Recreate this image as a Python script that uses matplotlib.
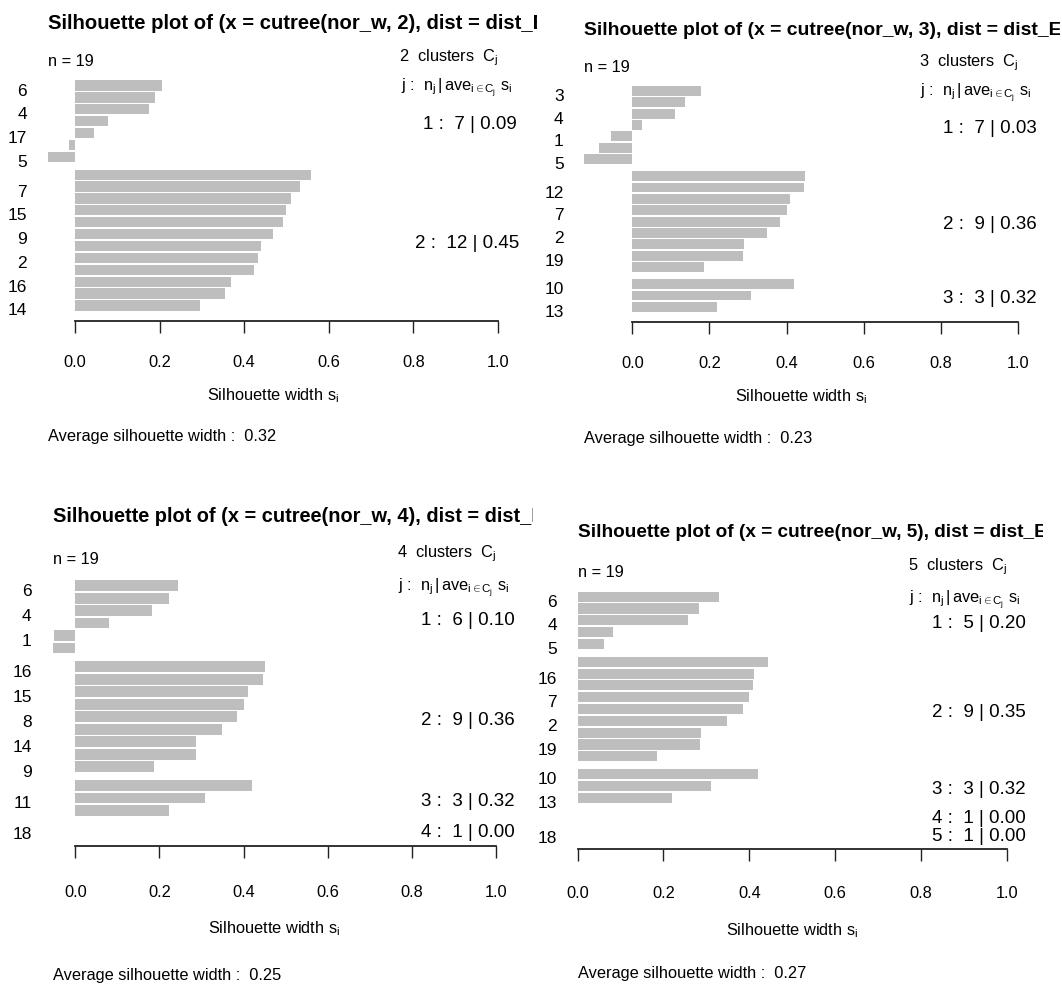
import matplotlib
matplotlib.use("Agg")
import matplotlib.pyplot as plt
import matplotlib.transforms as mtransforms
from matplotlib import font_manager

W, H, DPI = 1062, 987, 100

_names = {f.name for f in font_manager.fontManager.ttflist}
FONT = "Liberation Sans Narrow" if "Liberation Sans Narrow" in _names else "Liberation Sans"
NARROW = FONT.endswith("Narrow")
plt.rcParams["font.family"] = [FONT, "DejaVu Sans"]
plt.rcParams["mathtext.fontset"] = "custom"
plt.rcParams["mathtext.rm"] = FONT
plt.rcParams["mathtext.it"] = FONT
plt.rcParams["mathtext.sf"] = FONT
plt.rcParams["mathtext.bf"] = FONT + ":bold"

# ---- silhouette widths per cluster (sorted within each cluster) ----
sil_k2 = [[0.206, 0.190, 0.174, 0.077, 0.046, -0.014, -0.064],
          [0.559, 0.531, 0.511, 0.499, 0.492, 0.469, 0.439, 0.433, 0.424, 0.368, 0.355, 0.296]]
lab_k2 = [["6", "", "4", "", "17", "", "5"],
          ["", "7", "", "15", "", "9", "", "2", "", "16", "", "14"]]

sil_k3 = [[0.178, 0.136, 0.111, 0.024, -0.054, -0.087, -0.124],
          [0.449, 0.444, 0.409, 0.401, 0.382, 0.348, 0.290, 0.287, 0.187],
          [0.420, 0.308, 0.220]]
lab_k3 = [["3", "", "4", "", "1", "", "5"],
          ["", "12", "", "7", "", "2", "", "19", ""],
          ["10", "", "13"]]

sil_k4 = [[0.245, 0.222, 0.182, 0.081, -0.050, -0.054],
          [0.450, 0.445, 0.410, 0.400, 0.385, 0.348, 0.288, 0.288, 0.186],
          [0.420, 0.308, 0.222],
          [0.0]]
lab_k4 = [["6", "", "4", "", "1", ""],
          ["16", "", "15", "", "8", "", "14", "", "9"],
          ["", "11", ""],
          ["18"]]

sil_k5 = [[0.330, 0.283, 0.257, 0.083, 0.062],
          [0.444, 0.411, 0.408, 0.399, 0.385, 0.347, 0.288, 0.285, 0.186],
          [0.420, 0.310, 0.220],
          [0.0],
          [0.0]]
lab_k5 = [["6", "", "4", "", "5"],
          ["", "16", "", "7", "", "2", "", "19", ""],
          ["10", "", "13"],
          [""],
          ["18"]]

x_ticks = [0.0, 0.2, 0.4, 0.6, 0.8, 1.0]

# ---- page geometry of each panel (pixels, origin top-left) ----
panels = [
    dict(k=2, sil=sil_k2, lab=lab_k2, x0=75.0, x1=498.0, bottom=321.7, unit=11.89,
         clip=(0, 537), fs_title=14.6, title_dy=-42, n_dy=-5, cl_dy=-10, j_dy=20.5,
         tick_dy=45.5, xlab_dy=79, avg_dy=119),
    dict(k=3, sil=sil_k3, lab=lab_k3, x0=632.3, x1=1018.0, bottom=322.7, unit=11.37,
         clip=(540, 1060), fs_title=13.95, title_dy=-42, n_dy=-5.4, cl_dy=-10.4, j_dy=19.6,
         tick_dy=45.5, xlab_dy=79, avg_dy=120),
    dict(k=4, sil=sil_k4, lab=lab_k4, x0=75.3, x1=496.0, bottom=846.7, unit=12.49,
         clip=(0, 533), fs_title=14.4, title_dy=-48.5, n_dy=-6.2, cl_dy=-12.9, j_dy=21.5,
         tick_dy=50, xlab_dy=86.5, avg_dy=133),
    dict(k=5, sil=sil_k5, lab=lab_k5, x0=577.6, x1=1007.0, bottom=850.0, unit=11.82,
         clip=(540, 1043), fs_title=13.65, title_dy=-45.2, n_dy=-5.2, cl_dy=-11.9, j_dy=21.4,
         tick_dy=48, xlab_dy=85, avg_dy=128),
]

BAR = "#bebebe"
if NARROW:
    FS_TXT, FS_ROW, FS_CL, TITLE_SCALE = 14, 14, 16, 1.06
else:
    FS_TXT, FS_ROW, FS_CL, TITLE_SCALE = 11.8, 12.5, 13.5, 1.0

fig = plt.figure(figsize=(W / DPI, H / DPI), dpi=DPI)
fig.patch.set_facecolor("white")
page = fig.add_axes([0, 0, 1, 1])
page.set_xlim(0, W)
page.set_ylim(H, 0)
page.axis("off")

deferred = []  # texts placed with a fractional horizontal anchor (R's adj)
row_shift = mtransforms.ScaledTranslation(0, -3 / DPI, fig.dpi_scale_trans)

for p in panels:
    sil, lab, k = p["sil"], p["lab"], p["k"]
    n = sum(len(c) for c in sil)
    T = n + 0.5 * (k - 1)
    xmin = min(0.0, min(min(c) for c in sil))
    pxu = p["x1"] - p["x0"]
    left = p["x0"] + xmin * pxu
    right = p["x1"]
    bottom = p["bottom"]
    top = bottom - 1.08 * T * p["unit"]

    ax = fig.add_axes([left / W, 1 - bottom / H, (right - left) / W, (bottom - top) / H])
    ax.set_xlim(xmin, 1.0)
    ax.set_ylim(1.04 * T, -0.04 * T)
    ax.patch.set_alpha(0)

    pos, vals, labels, means = [], [], [], []
    row = 0
    for j, (cvals, clabs) in enumerate(zip(sil, lab)):
        cpos = [row + i + 0.5 * j + 0.5 for i in range(len(cvals))]
        pos += cpos
        vals += cvals
        labels += clabs
        means.append((sum(cpos) / len(cpos), len(cvals), sum(cvals) / len(cvals)))
        row += len(cvals)
    ax.barh(pos, vals, height=0.86, color=BAR, edgecolor="none")

    for s in ("left", "right", "top"):
        ax.spines[s].set_visible(False)
    ax.spines["bottom"].set_bounds(0.0, 1.0)
    ax.spines["bottom"].set_linewidth(1.3)
    ax.spines["bottom"].set_color("#222222")
    ax.set_xticks(x_ticks)
    ax.set_xticklabels([])
    ax.tick_params(axis="x", length=8.8, width=1.0, color="#222222", direction="out")
    ax.set_yticks(pos)
    ax.set_yticklabels(labels, fontsize=FS_ROW)
    ax.tick_params(axis="y", length=0, pad=15)
    for tl in ax.get_yticklabels():
        tl.set_transform(tl.get_transform() + row_shift)

    # tick labels, axis title and summary line below the axis
    for t in x_ticks:
        xp = p["x0"] + t * pxu
        page.text(xp, bottom + p["tick_dy"], f"{t:.1f}", ha="center", va="baseline",
                  fontsize=FS_TXT)
    page.text((left + right) / 2, bottom + p["xlab_dy"], r"Silhouette width $s_i$",
              ha="center", va="baseline", fontsize=FS_TXT)
    avg = sum(vals) / n
    page.text(left, bottom + p["avg_dy"], f"Average silhouette width :  {avg:.2f}",
              ha="left", va="baseline", fontsize=FS_TXT)

    # title, clipped at the panel edge
    title = page.text(left, top + p["title_dy"],
                      f"Silhouette plot of (x = cutree(nor_w, {k}), dist = dist_Euclid))",
                      ha="left", va="baseline", fontsize=p["fs_title"] * TITLE_SCALE,
                      fontweight="bold")
    cx0, cx1 = p["clip"]
    clip = mtransforms.Bbox.from_extents(cx0, 0, cx1, H)
    title.set_clip_box(mtransforms.TransformedBbox(clip, page.transData))
    title.set_clip_on(True)

    page.text(left, top + p["n_dy"], f"n = {n}", ha="left", va="baseline", fontsize=FS_TXT)
    page.text(right, top + p["cl_dy"], rf"{k}  clusters  $C_j$", ha="right", va="baseline",
              fontsize=FS_TXT)
    hdr = page.text(0, top + p["j_dy"],
                    r"j :  $n_j\,|\,\mathrm{ave}_{i\in C_j}\ s_i$",
                    ha="left", va="baseline", fontsize=FS_TXT)
    deferred.append((hdr, left + 1.04 * (right - left), 1.04))

    digit_half = 0.358 * FS_CL * DPI / 72
    for j, (ym, nj, mj) in enumerate(means):
        ypx = top + (0.04 * T + ym) / (1.08 * T) * (bottom - top)
        t = page.text(0, ypx + digit_half, f"{j + 1} :  {nj} | {mj:.2f}",
                      ha="left", va="baseline", fontsize=FS_CL)
        deferred.append((t, p["x1"], 0.8))

fig.canvas.draw()
for t, xa, adj in deferred:
    w = t.get_window_extent().width
    x, y = t.get_position()
    t.set_position((xa - adj * w, y))

fig.savefig("out.png", dpi=DPI, facecolor="white")
